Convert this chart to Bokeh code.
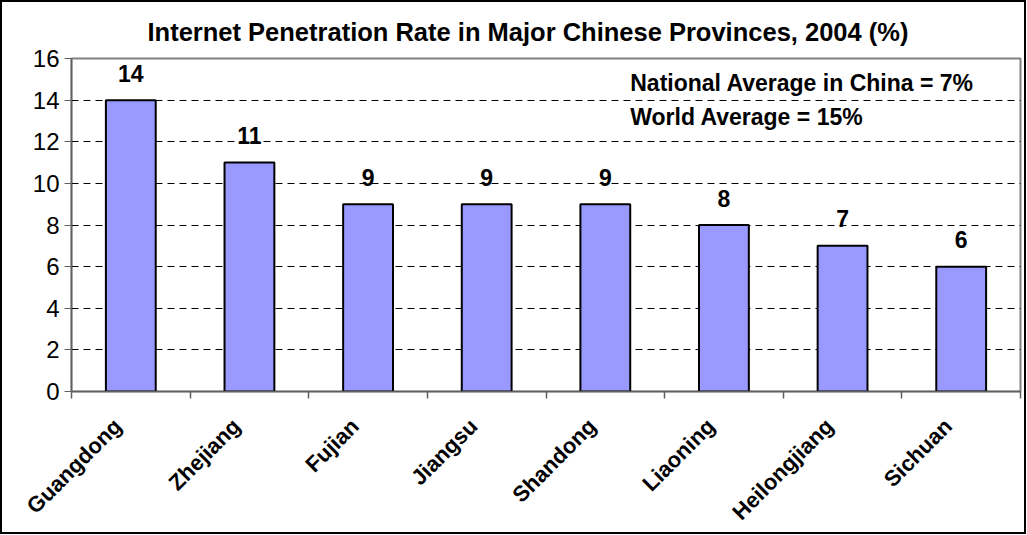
import math
from bokeh.plotting import figure
from bokeh.models import (Range1d, LinearAxis, FixedTicker, Label,
                          ColumnDataSource)
from bokeh.core.properties import value
from bokeh.embed import file_html
from bokeh.resources import INLINE

provinces = ["Guangdong", "Zhejiang", "Fujian", "Jiangsu", "Shandong",
             "Liaoning", "Heilongjiang", "Sichuan"]
rates = [14, 11, 9, 9, 9, 8, 7, 6]
rate_labels = [str(v) for v in rates]
y_ticks = [0, 2, 4, 6, 8, 10, 12, 14, 16]
title_text = "Internet Penetration Rate in Major Chinese Provinces, 2004 (%)"
note_lines = ["National Average in China = 7%", "World Average = 15%"]
note_y = [14.81, 13.18]

FONT = "Liberation Sans"
n = len(provinces)
centers = [i + 0.5 for i in range(n)]
bounds = list(range(n + 1))
label_pos = [c - 0.11 for c in centers]

src = ColumnDataSource(dict(x=centers, y=rates, t=rate_labels))

p = figure(x_range=Range1d(0, n), y_range=Range1d(0, 16),
           width=1026, height=534, output_backend="svg",
           toolbar_location=None, x_axis_location=None,
           min_border_left=69, min_border_right=8,
           min_border_top=56, min_border_bottom=142,
           title=title_text)
p.styles = {"border": "2px solid black", "box-sizing": "border-box"}

p.title.align = "left"
p.title.offset = 76
p.title.text_font = FONT
p.title.text_font_size = "25.5px"
p.title.text_font_style = "bold"
p.title.text_color = "black"
p.title.standoff = 25

p.outline_line_color = "#808080"
p.outline_line_width = 2
p.background_fill_color = "white"
p.border_fill_color = "white"

# grid
p.xgrid.grid_line_color = None
p.ygrid.ticker = FixedTicker(ticks=y_ticks)
p.ygrid.grid_line_color = "black"
p.ygrid.grid_line_dash = "7 5"
p.ygrid.grid_line_width = 1

# y axis
ya = p.yaxis[0]
ya.ticker = FixedTicker(ticks=y_ticks)
ya.axis_line_color = "#606060"
ya.axis_line_width = 1.5
ya.major_tick_line_color = "#606060"
ya.major_tick_out = 7
ya.major_tick_in = 0
ya.minor_tick_line_color = None
ya.major_label_text_font = FONT
ya.major_label_text_font_size = "24px"
ya.major_label_text_color = "black"
ya.major_label_standoff = 5

# x axis: province labels under the bars, ticks at category boundaries
cx = LinearAxis(ticker=FixedTicker(ticks=label_pos, minor_ticks=bounds),
                major_label_overrides={lp: name for lp, name in zip(label_pos, provinces)})
cx.axis_line_color = "#606060"
cx.axis_line_width = 1.5
cx.major_tick_line_color = None
cx.major_tick_in = 0
cx.major_tick_out = 7
cx.minor_tick_line_color = "#606060"
cx.minor_tick_line_width = 1.5
cx.minor_tick_in = 0
cx.minor_tick_out = 7
cx.major_label_orientation = math.pi / 4
cx.major_label_text_font = FONT
cx.major_label_text_font_size = "22px"
cx.major_label_text_font_style = "bold"
cx.major_label_text_color = "black"
cx.major_label_standoff = 24
p.add_layout(cx, "below")

p.vbar(x="x", top="y", width=0.42, source=src, fill_color="#9999FF",
       line_color="black", line_width=2)

p.text(x="x", y="y", text="t", source=src, text_align="center",
       text_baseline="alphabetic", y_offset=-27, text_font=value(FONT),
       text_font_size="23px", text_font_style="bold", text_color="black")

for line, yv in zip(note_lines, note_y):
    p.add_layout(Label(x=4.71, y=yv, text=line, text_font=FONT,
                       text_font_size="23px", text_font_style="bold",
                       text_color="black", text_baseline="alphabetic"))

open("out.html", "w").write(file_html(p, INLINE))
